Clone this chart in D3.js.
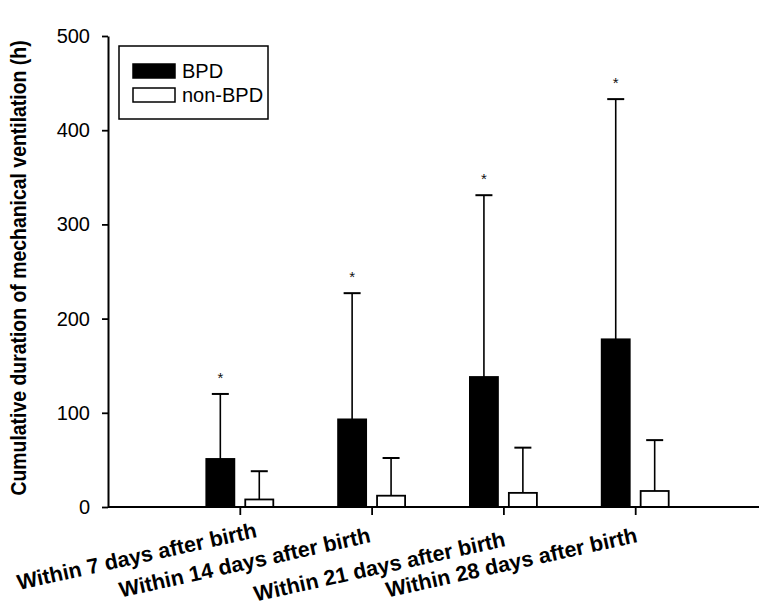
<!DOCTYPE html>
<html>
<head>
<meta charset="utf-8">
<script src="https://cdn.jsdelivr.net/npm/d3@7"></script>
<style>
  body { margin: 0; background: #fff; }
  text { font-family: Arial, "Liberation Sans", sans-serif; }
</style>
</head>
<body>
<script>
// data
const categories = ["Within 7 days after birth", "Within 14 days after birth",
                    "Within 21 days after birth", "Within 28 days after birth"];
const groups = ["BPD", "non-BPD"];
const bpdMean = [51, 93, 138, 178];
const bpdSD = [69, 134, 193, 255];
const nonBpdMean = [8, 12, 15, 17];
const nonBpdSD = [30, 40, 48, 54];
const significant = [true, true, true, true];
const yTicks = [0, 100, 200, 300, 400, 500];

const width = 759, height = 606;
const axisX = 108, axisY = 507, topY = 36;

const svg = d3.select("body").append("svg")
    .attr("width", width)
    .attr("height", height);

const y = d3.scaleLinear().domain([0, 500]).range([axisY, topY]);
const x = d3.scalePoint().domain(categories).range([axisX, axisX + 131.8 * 5]).padding(1);
const xSub = d3.scaleBand().domain(groups).range([-33.5, 33.5]).paddingInner(0.28);

const rows = categories.map((c, i) => ({
    cat: c,
    bars: [
        { g: "BPD", mean: bpdMean[i], sd: bpdSD[i] },
        { g: "non-BPD", mean: nonBpdMean[i], sd: nonBpdSD[i] }
    ],
    star: significant[i]
}));

// bars
const grp = svg.selectAll("g.cat")
    .data(rows)
    .enter()
    .append("g")
    .attr("class", "cat")
    .attr("transform", d => `translate(${x(d.cat)},0)`);

grp.selectAll("rect")
    .data(d => d.bars)
    .enter()
    .append("rect")
    .attr("x", d => xSub(d.g))
    .attr("width", xSub.bandwidth())
    .attr("y", d => y(d.mean))
    .attr("height", d => y(0) - y(d.mean))
    .attr("fill", d => d.g === "BPD" ? "#000" : "#fff")
    .attr("stroke", "#000")
    .attr("stroke-width", 1.8);

// error bars (upper only)
const err = grp.selectAll("g.err")
    .data(d => d.bars)
    .enter()
    .append("g")
    .attr("class", "err");
err.append("line")
    .attr("x1", d => xSub(d.g) + xSub.bandwidth() / 2)
    .attr("x2", d => xSub(d.g) + xSub.bandwidth() / 2)
    .attr("y1", d => y(d.mean))
    .attr("y2", d => y(d.mean + d.sd))
    .attr("stroke", "#000")
    .attr("stroke-width", 1.6);
err.append("line")
    .attr("x1", d => xSub(d.g) + xSub.bandwidth() / 2 - 8.5)
    .attr("x2", d => xSub(d.g) + xSub.bandwidth() / 2 + 8.5)
    .attr("y1", d => y(d.mean + d.sd))
    .attr("y2", d => y(d.mean + d.sd))
    .attr("stroke", "#000")
    .attr("stroke-width", 2);

// significance stars
grp.filter(d => d.star)
    .append("text")
    .attr("x", xSub("BPD") + xSub.bandwidth() / 2)
    .attr("y", d => y(d.bars[0].mean + d.bars[0].sd) - 19 + 8)
    .attr("text-anchor", "middle")
    .attr("font-size", 15)
    .attr("fill", "#111")
    .text("*");

// y axis
const yAxis = d3.axisLeft(y)
    .tickValues(yTicks)
    .tickSize(6)
    .tickPadding(12)
    .tickSizeOuter(0);
const gy = svg.append("g")
    .attr("transform", `translate(${axisX},0)`)
    .call(yAxis);
gy.select(".domain").attr("stroke-width", 2);
gy.selectAll(".tick line").attr("stroke-width", 1.8);
gy.selectAll(".tick text")
    .attr("font-size", 20)
    .attr("font-family", "Arial, 'Liberation Sans', sans-serif")
    .attr("fill", "#000");

// x axis
const gx = svg.append("g")
    .attr("transform", `translate(0,${axisY})`)
    .call(d3.axisBottom(x).tickSize(8).tickFormat(""));
gx.select(".domain").remove();
gx.selectAll(".tick line").attr("stroke-width", 1.8);
gx.append("line")
    .attr("x1", axisX).attr("x2", width)
    .attr("y1", 0).attr("y2", 0)
    .attr("stroke", "#000")
    .attr("stroke-width", 2);

// rotated category labels
const labelDx = [18, 0, 3, 3];
const labelDy = [-4, 1, 5, 1];
svg.selectAll("text.xlab")
    .data(categories)
    .enter()
    .append("text")
    .attr("class", "xlab")
    .attr("transform", (d, i) => `translate(${x(d) + labelDx[i]},${541 + labelDy[i]}) rotate(-12.5)`)
    .attr("text-anchor", "end")
    .attr("font-size", 21.5)
    .attr("font-weight", "bold")
    .text(d => d);

// y title
const title = svg.append("text")
    .attr("transform", `translate(26,268) rotate(-90) scale(1,1.15)`)
    .attr("text-anchor", "middle")
    .attr("font-size", 18)
    .attr("font-weight", "bold")
    .text("Cumulative duration of mechanical ventilation (h)");
const tl = title.node().getComputedTextLength();
title.attr("font-size", 18 * 455 / tl);

// legend
const legend = svg.append("g").attr("transform", "translate(119,46)");
legend.append("rect")
    .attr("width", 149).attr("height", 73)
    .attr("fill", "#fff")
    .attr("stroke", "#000")
    .attr("stroke-width", 1.5);
const li = legend.selectAll("g.item")
    .data(groups)
    .enter()
    .append("g")
    .attr("class", "item")
    .attr("transform", (d, i) => `translate(14,${18 + i * 24})`);
li.append("rect")
    .attr("width", 42).attr("height", 14)
    .attr("fill", d => d === "BPD" ? "#000" : "#fff")
    .attr("stroke", "#000")
    .attr("stroke-width", 1.5);
li.append("text")
    .attr("x", 49)
    .attr("y", 14)
    .attr("font-size", 20)
    .text(d => d);
</script>
</body>
</html>
